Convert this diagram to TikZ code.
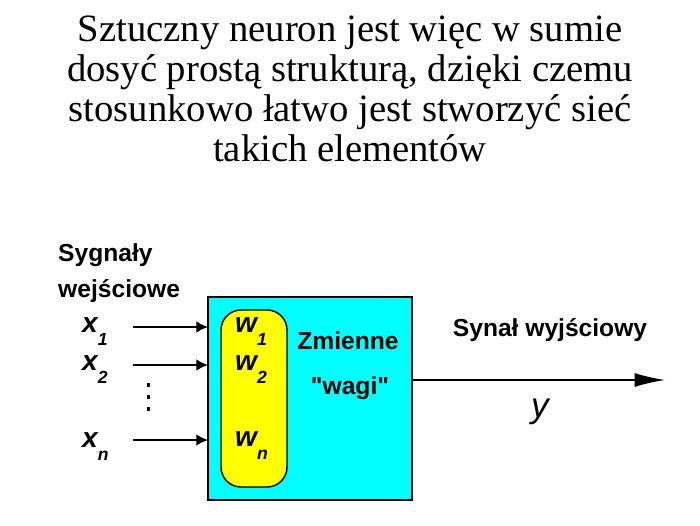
\documentclass[tikz,border=0pt]{standalone}
\usepackage{fontspec}
\setmainfont{Liberation Serif}
\newfontfamily\arialfont{Liberation Sans}
\usetikzlibrary{arrows.meta,positioning,calc}

\definecolor{neuroncyan}{RGB}{0,255,255}
\definecolor{wagiyellow}{RGB}{255,255,0}

\newcommand{\sygn}[2]{{\fontsize{24}{24}\selectfont #1}\raisebox{-11pt}{\fontsize{15}{15}\selectfont #2}}

\tikzset{
  lbl/.style={font=\arialfont\bfseries\fontsize{21}{21}\selectfont, inner sep=0pt},
  sig/.style={font=\arialfont\bfseries\itshape, inner sep=0pt},
  wej/.style={-{Latex[length=10pt,width=10pt]}, line width=1.4pt},
  kropka/.style={fill=black, inner sep=0pt, minimum size=3.2pt},
}

\begin{document}
\begin{tikzpicture}[x=0.03cm, y=-0.03cm]
  \useasboundingbox (0,0) rectangle (700,525);

  \node[align=center, font=\fontsize{33}{34.1}\selectfont] (title) at (350,89)
    {Sztuczny neuron jest więc w sumie\\dosyć prostą strukturą, dzięki czemu\\stosunkowo łatwo jest stworzyć sieć\\takich elementów};

  % neuron
  \node[draw, fill=neuroncyan, line width=1.2pt, minimum width=6.12cm, minimum height=6.09cm,
        inner sep=0pt, outer sep=0pt] (neuron) at (310,398.5) {};
  \node[draw, fill=wagiyellow, line width=1.2pt, rounded corners=0.6cm, minimum width=1.98cm,
        minimum height=5.31cm, inner sep=0pt] (wagi) at (254,398.5) {};

  \node[lbl, anchor=west] (syg) at (58,255) {Sygnały};
  \node[lbl, anchor=west] (wej) at (58,291) {wejściowe};

  % wejscia
  \node[sig, anchor=west] (x1) at (82,332) {\sygn{x}{1}};
  \node[sig, anchor=west] (x2) at (82,370) {\sygn{x}{2}};
  \node[sig, anchor=west] (xn) at (82,447) {\sygn{x}{n}};
  \coordinate (s1) at (133,327);
  \coordinate (s2) at (133,365);
  \coordinate (sn) at (133,440);
  \draw[wej] (s1) -- (s1 -| neuron.west);
  \draw[wej] (s2) -- (s2 -| neuron.west);
  \draw[wej] (sn) -- (sn -| neuron.west);
  \foreach \yk in {385,397,409}
    \node[kropka] at (148.5,\yk) {};

  \node[sig, anchor=west] (w1) at (235,332) {\sygn{w}{1}};
  \node[sig, anchor=west] (w2) at (235,370) {\sygn{w}{2}};
  \node[sig, anchor=west] (wn) at (235,446) {\sygn{w}{n}};

  \node[lbl] (zm) at (348,341) {Zmienne};
  \node[lbl] (wg) at (350,388) {"wagi"};

  % wyjscie
  \node[lbl] (wyj) at (550,330) {Synał wyjściowy};
  \coordinate (out) at (665,380);
  \draw[-{Latex[length=26pt,width=12pt]}, line width=1.4pt] (out -| neuron.east) -- (out);
  \node[font=\arialfont\itshape\fontsize{30}{30}\selectfont, inner sep=0pt] (y) at (540,412) {y};
\end{tikzpicture}
\end{document}
